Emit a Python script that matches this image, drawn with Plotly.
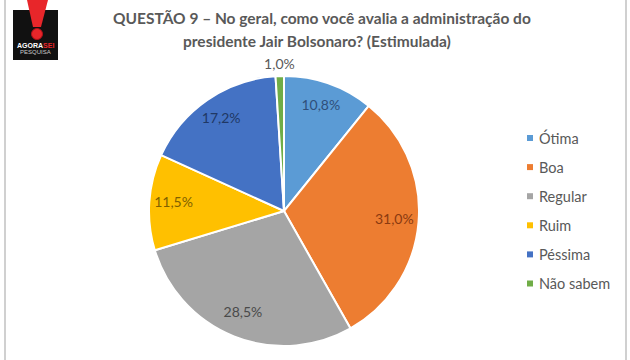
import plotly.graph_objects as go

# ---- data ----
categories = ["Ótima", "Boa", "Regular", "Ruim", "Péssima", "Não sabem"]
values = [10.8, 31.0, 28.5, 11.5, 17.2, 1.0]
value_labels = ["10,8%", "31,0%", "28,5%", "11,5%", "17,2%", "1,0%"]
colors = ["#5B9BD5", "#ED7D31", "#A5A5A5", "#FFC000", "#4472C4", "#70AD47"]
label_colors = ["#2F4F7A", "#8A3A10", "#4A4A4A", "#7F6000", "#203864", "#595959"]
label_radius = [0.82, 0.82, 0.82, 0.82, 0.82, 1.08]

title_line1 = "QUESTÃO 9 – No geral, como você avalia a administração do"
title_line2 = "presidente Jair Bolsonaro? (Estimulada)"

W, H = 630, 360
cx, cy, R = 284, 211, 135
RMAX = 1.1  # radial axis extent, leaves room for the outside label
RP = R * RMAX


def px(x, y):
    return x / W, 1 - y / H


dom_x = [(cx - RP) / W, (cx + RP) / W]
dom_y = [max(0, 1 - (cy + RP) / H), 1 - (cy - RP) / H]

# slice angles derived from the cumulative values
total = sum(values)
thetas = []
widths = []
cum = 0.0
for v in values:
    thetas.append((cum + v / 2) / total * 360)
    widths.append(v / total * 360)
    cum += v

fig = go.Figure()

fig.add_trace(go.Barpolar(
    r=[1] * len(values),
    theta=thetas,
    width=widths,
    marker=dict(color=colors, line=dict(color="white", width=2)),
    hovertext=[f"{c}: {l}" for c, l in zip(categories, value_labels)],
    hoverinfo="text",
    showlegend=False,
))

fig.add_trace(go.Scatterpolar(
    r=label_radius,
    theta=thetas,
    mode="text",
    text=value_labels,
    textfont=dict(family="Lato", size=14, color=label_colors),
    cliponaxis=False,
    showlegend=False,
    hoverinfo="skip",
))

fig.update_layout(
    width=W, height=H,
    margin=dict(l=0, r=0, t=0, b=0),
    paper_bgcolor="white",
    plot_bgcolor="white",
    polar=dict(
        domain=dict(x=dom_x, y=dom_y),
        bgcolor="rgba(0,0,0,0)",
        hole=0,
        barmode="overlay",
        bargap=0,
        radialaxis=dict(range=[0, RMAX], visible=False, showgrid=False),
        angularaxis=dict(visible=False, rotation=90, direction="clockwise", showgrid=False),
    ),
)

annotations = []
shapes = []

# title
tx, ty = px(322, 18)
annotations.append(dict(x=tx, y=ty, xref="paper", yref="paper", text="<b>" + title_line1 + "</b>",
                        showarrow=False, xanchor="center", yanchor="middle",
                        font=dict(family="Lato", size=15.5, color="#595959")))
tx, ty = px(317, 41)
annotations.append(dict(x=tx, y=ty, xref="paper", yref="paper", text="<b>" + title_line2 + "</b>",
                        showarrow=False, xanchor="center", yanchor="middle",
                        font=dict(family="Lato", size=15.5, color="#595959")))

# manual legend
for i, (cat, col) in enumerate(zip(categories, colors)):
    ly = 138 + i * 29.1
    x0, y0 = px(527, ly - 3)
    x1, y1 = px(533, ly + 3)
    shapes.append(dict(type="rect", xref="paper", yref="paper", x0=x0, x1=x1, y0=y1, y1=y0,
                       fillcolor=col, line=dict(width=0)))
    ax, ay = px(537, ly)
    annotations.append(dict(x=ax, y=ay, xref="paper", yref="paper", text=cat, showarrow=False,
                            xanchor="left", yanchor="middle",
                            font=dict(family="Lato", size=14.5, color="#595959")))

# frame lines
for xline in (5, 626):
    xp, _ = px(xline, 0)
    shapes.append(dict(type="line", xref="paper", yref="paper", x0=xp, x1=xp, y0=0, y1=1,
                       line=dict(color="#D0D0D0", width=2)))

# logo
x0, y0 = px(13, 10)
x1, y1 = px(58, 60)
shapes.append(dict(type="rect", xref="paper", yref="paper", x0=x0, x1=x1, y0=y1, y1=y0,
                   fillcolor="#111111", line=dict(width=0)))
pts = [(27, 0), (48, 0), (41, 27), (33, 27)]
path = "M " + " L ".join(f"{px(a, b)[0]:.5f},{px(a, b)[1]:.5f}" for a, b in pts) + " Z"
shapes.append(dict(type="path", xref="paper", yref="paper", path=path,
                   fillcolor="#E8262A", line=dict(width=0)))
cx0, cy0 = px(31.5, 28.5)
cx1, cy1 = px(42.5, 39.5)
shapes.append(dict(type="circle", xref="paper", yref="paper", x0=cx0, x1=cx1, y0=cy1, y1=cy0,
                   fillcolor="#E8262A", line=dict(color="#B01018", width=1)))
lx, ly = px(35.5, 45)
annotations.append(dict(x=lx, y=ly, xref="paper", yref="paper",
                        text="<b>AGORA<span style='color:#E8262A'>SEI</span></b>",
                        showarrow=False, xanchor="center", yanchor="middle",
                        font=dict(family="Liberation Sans", size=7, color="white")))
lx, ly = px(35.5, 52)
annotations.append(dict(x=lx, y=ly, xref="paper", yref="paper", text="PESQUISA",
                        showarrow=False, xanchor="center", yanchor="middle",
                        font=dict(family="Liberation Sans", size=6, color="#CCCCCC")))

fig.update_layout(annotations=annotations, shapes=shapes)

fig.write_html("out.html", config={"displayModeBar": False},
               post_script="document.body.style.margin='0';")
